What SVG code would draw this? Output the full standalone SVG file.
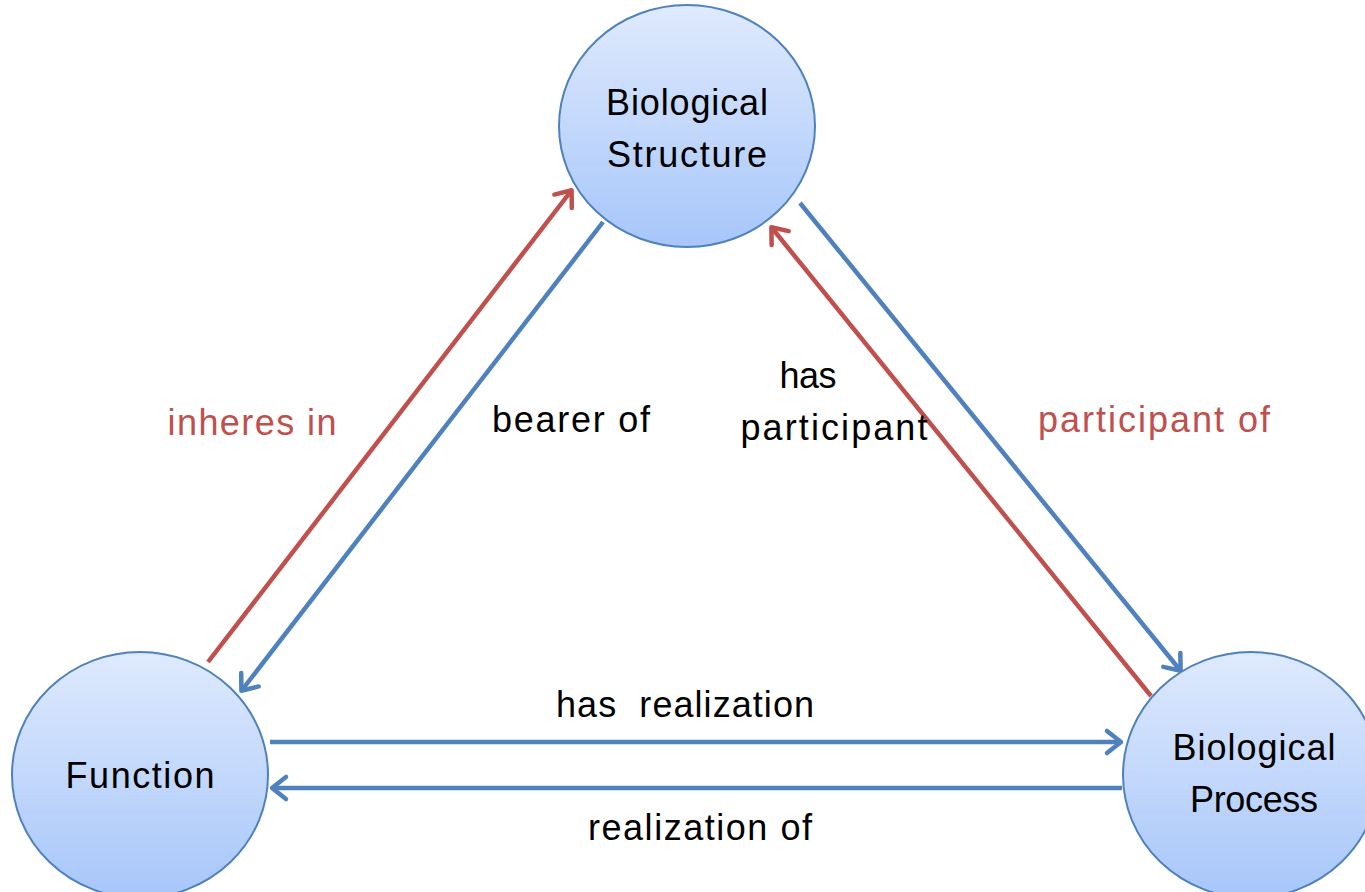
<svg xmlns="http://www.w3.org/2000/svg" width="1365" height="892" viewBox="0 0 1365 892">
<style>
.node{stroke:#4f81bd;stroke-width:2;fill:url(#g)}
.t{font-family:"Liberation Sans",Arial,sans-serif;font-size:36px;fill:#000}
.red{fill:#c0504d}
.cb{stroke:#4f81bd;stroke-width:4.5;fill:none;marker-end:url(#ab)}
.cr{stroke:#c0504d;stroke-width:4.5;fill:none;marker-end:url(#ar)}
</style>
<defs>
<linearGradient id="g" x1="0" y1="0" x2="0" y2="1">
<stop offset="0" stop-color="#dfeafd"/>
<stop offset="1" stop-color="#a7c6fa"/>
</linearGradient>
<marker id="ab" markerWidth="10" markerHeight="10" refX="0" refY="0" orient="auto" markerUnits="userSpaceOnUse" viewBox="0 0 10 10" overflow="visible">
<path d="M-13,-11 L1,0 L-13,11" fill="none" stroke="#4f81bd" stroke-width="4.5" stroke-linecap="round" stroke-linejoin="round"/>
</marker>
<marker id="ar" markerWidth="10" markerHeight="10" refX="0" refY="0" orient="auto" markerUnits="userSpaceOnUse" viewBox="0 0 10 10" overflow="visible">
<path d="M-13,-11 L1,0 L-13,11" fill="none" stroke="#c0504d" stroke-width="4.5" stroke-linecap="round" stroke-linejoin="round"/>
</marker>
</defs>
<rect width="1365" height="892" fill="#fff"/>
<g id="connectors">
<line class="cr" x1="208" y1="662" x2="571" y2="191"/>
<line class="cb" x1="603" y1="222" x2="242" y2="690"/>
<line class="cb" x1="800" y1="203" x2="1180" y2="670"/>
<line class="cr" x1="1151" y1="696" x2="772" y2="228"/>
<line class="cb" x1="270" y1="742" x2="1120" y2="742"/>
<line class="cb" x1="1122" y1="788" x2="273" y2="788"/>
</g>
<g id="structure">
<ellipse class="node" cx="687" cy="126" rx="128" ry="121"/>
<text class="t" x="687" y="115" text-anchor="middle" textLength="162">Biological</text>
<text class="t" x="687" y="167" text-anchor="middle" textLength="160">Structure</text>
</g>
<g id="function">
<ellipse class="node" cx="140" cy="775" rx="128" ry="123"/>
<text class="t" x="140" y="788" text-anchor="middle" textLength="149">Function</text>
</g>
<g id="process">
<ellipse class="node" cx="1251" cy="775" rx="128" ry="123"/>
<text class="t" x="1254" y="760" text-anchor="middle" textLength="163">Biological</text>
<text class="t" x="1254" y="812" text-anchor="middle" textLength="128">Process</text>
</g>
<g id="labels">
<text class="t red" x="252" y="435" text-anchor="middle" textLength="169">inheres in</text>
<text class="t" x="571" y="432" text-anchor="middle" textLength="158">bearer of</text>
<text class="t" x="808" y="388" text-anchor="middle" textLength="57">has</text>
<text class="t" x="834" y="440" text-anchor="middle" textLength="187">participant</text>
<text class="t red" x="1154" y="432" text-anchor="middle" textLength="232">participant of</text>
<text class="t" x="685" y="717" text-anchor="middle" textLength="258" xml:space="preserve">has  realization</text>
<text class="t" x="700" y="840" text-anchor="middle" textLength="224">realization of</text>
</g>
</svg>
